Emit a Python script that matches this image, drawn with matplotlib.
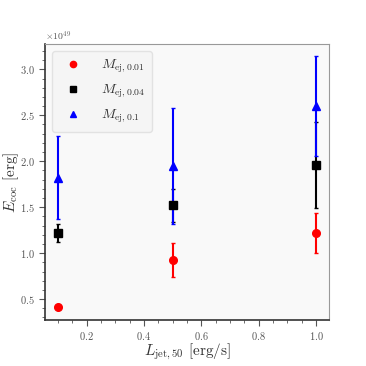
import numpy as np
import matplotlib
matplotlib.use("Agg")
import matplotlib.pyplot as plt

plt.rcParams['font.family'] = 'serif'
plt.rcParams['font.serif'] = ['cmr10', 'DejaVu Serif']
plt.rcParams['mathtext.fontset'] = 'cm'
plt.rcParams['axes.formatter.use_mathtext'] = True

# luminosidad del jet
l_jet = [0.1, 0.5, 1.0]

# energia del cocoon (x 1e49 erg) y errores
e_001 = [0.41, 0.92, 1.22]
err_001 = [0.0, 0.185, 0.22]
e_004 = [1.22, 1.52, 1.96]
err_004 = [0.10, 0.18, 0.47]
e_01 = [1.82, 1.95, 2.60]
err_01 = [0.45, 0.63, 0.54]

series = [
    (e_001, err_001, 'red', 'o', r'$M_{\rm ej,0.01}$'),
    (e_004, err_004, 'black', 's', r'$M_{\rm ej,0.04}$'),
    (e_01, err_01, 'blue', '^', r'$M_{\rm ej,0.1}$'),
]

fig = plt.figure(figsize=(3.66, 3.66), dpi=100)
ax = fig.add_axes([0.123, 0.126, 0.776, 0.754])
ax.set_facecolor('#f9f9f9')

for y, err, c, m, lab in series:
    yv = np.array(y) * 1e49
    ev = np.array(err) * 1e49
    ax.errorbar(l_jet, yv, yerr=ev, fmt=m, color=c, ms=5.5, elinewidth=1.5,
                capsize=1.2, capthick=1)
    ax.plot([], [], m, color=c, ms=4.5, linestyle='none', label=lab)

ax.set_xlabel(r'$L_{\rm jet,50}$ [erg/s]', fontsize=11, color='#333333', labelpad=0)
ax.set_ylabel(r'$E_{\rm coc}$ [erg]', fontsize=11, color='#333333', labelpad=-1)

ax.minorticks_on()
ax.tick_params(which='both', direction='out', colors='#555555', labelsize=7.5)
ax.tick_params(which='major', length=4)
ax.tick_params(which='minor', length=2)
ax.yaxis.get_offset_text().set_fontsize(7)
ax.yaxis.get_offset_text().set_color('#555555')

for s in ['left', 'bottom']:
    ax.spines[s].set_color('#333333')
    ax.spines[s].set_linewidth(1.2)
for s in ['top', 'right']:
    ax.spines[s].set_color('#999999')

leg = ax.legend(loc='upper left', fontsize=10, handletextpad=1.0,
                borderpad=0.5, labelspacing=0.55, fancybox=True)
leg.get_frame().set_facecolor('#f4f4f4')
leg.get_frame().set_edgecolor('#dddddd')
for t in leg.get_texts():
    t.set_color('#333333')

fig.savefig('out.png', dpi=100)
